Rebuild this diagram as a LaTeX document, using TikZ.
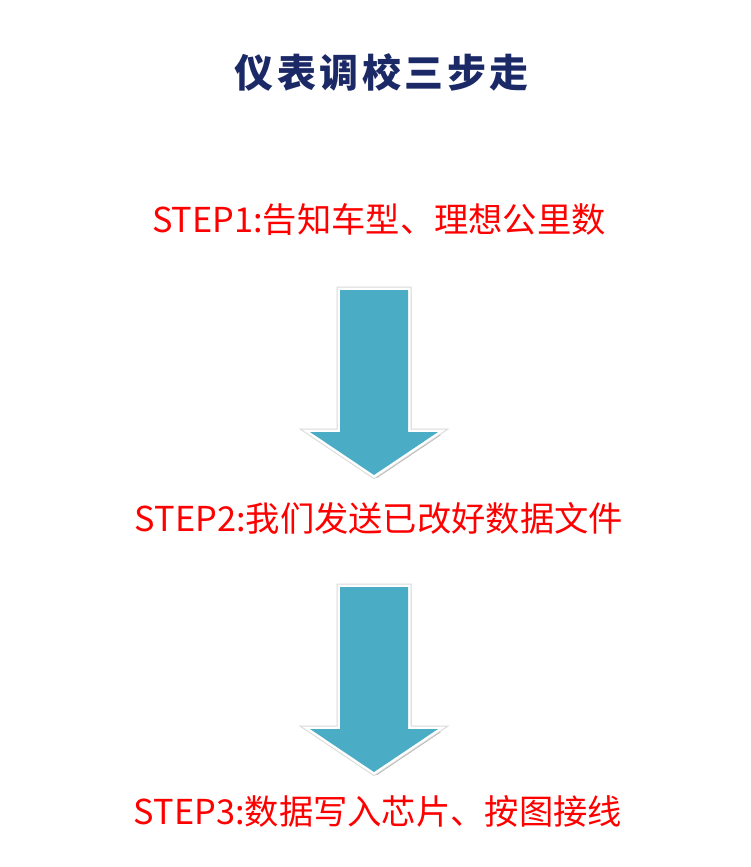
\documentclass[tikz,border=0pt]{standalone}
\usepackage{fontspec}
\setmainfont{Noto Sans CJK SC}
\newfontfamily\titlefont[LetterSpace=9]{Noto Sans CJK SC}
\definecolor{titlenavy}{HTML}{1B2A66}
\definecolor{stepred}{HTML}{FF0000}
\definecolor{arrowblue}{HTML}{4BACC6}
\tikzset{
  titletext/.style={text=titlenavy,font=\titlefont\bfseries\fontsize{39}{44}\selectfont},
  steptext/.style={text=stepred,font=\fontsize{34.3}{40}\selectfont},
  % big down arrow between two steps (top of shaft at the origin)
  downarrow/.pic={
    \path[fill=black!30] (-31,3) -- (37,3) -- (37,145) -- (67,145) -- (3,188) -- (-61,145) -- (-31,145) -- cycle;
    \draw[gray!30,line width=7pt,line join=miter]
      (-34,0) -- (34,0) -- (34,142) -- (64,142) -- (0,185) -- (-64,142) -- (-34,142) -- cycle;
    \draw[white,line width=5pt,line join=miter]
      (-34,0) -- (34,0) -- (34,142) -- (64,142) -- (0,185) -- (-64,142) -- (-34,142) -- cycle;
    \fill[arrowblue]
      (-34,0) -- (34,0) -- (34,142) -- (64,142) -- (0,185) -- (-64,142) -- (-34,142) -- cycle;
  }
}
\begin{document}
\begin{tikzpicture}[x=1pt,y=-1pt]
  \useasboundingbox[fill=white] (0,0) rectangle (750,867);
  % title
  \node[titletext] (title) at (382,72) {仪表调校三步走};
  % the three steps
  \node[steptext] (step1) at (379,220) {STEP1:告知车型、理想公里数};
  \node[steptext] (step2) at (379,518) {STEP2:我们发送已改好数据文件};
  \node[steptext] (step3) at (378,811) {STEP3:数据写入芯片、按图接线};
  % arrows in between
  \coordinate (a1) at (374,290);
  \coordinate (a2) at (374,587);
  \pic at (a1) {downarrow};
  \pic at (a2) {downarrow};
\end{tikzpicture}
\end{document}
